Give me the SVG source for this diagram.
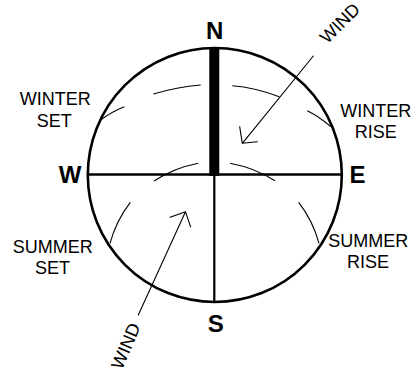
<svg xmlns="http://www.w3.org/2000/svg" width="419" height="374" viewBox="0 0 419 374">
<style>
.lbl{font-family:"Liberation Sans",Arial,sans-serif;font-size:18px;fill:#000;text-anchor:middle}
.dir{font-family:"Liberation Sans",Arial,sans-serif;font-size:24px;font-weight:bold;fill:#000;text-anchor:middle}
.path{fill:none;stroke:#000;stroke-width:1.1}
.wind{fill:none;stroke:#000;stroke-width:1.1;stroke-linecap:round;stroke-linejoin:round}
</style>
<rect width="419" height="374" fill="#fff"/>
<g id="compass">
<circle cx="214.8" cy="175" r="127" fill="none" stroke="#000" stroke-width="2.6"/>
<line x1="87.8" y1="174.5" x2="341.8" y2="174.5" stroke="#000" stroke-width="2.6"/>
<line x1="214.3" y1="175" x2="214.3" y2="302" stroke="#000" stroke-width="2.2"/>
<rect x="209.3" y="48" width="10" height="128" fill="#000"/>
</g>
<g id="sun-paths">
<path class="path" d="M153.3,94 Q177,87 200.7,85"/>
<path class="path" d="M232.3,85.7 Q255,87.5 279.3,96.7"/>
<path class="path" d="M100.7,120 Q111,112 124.3,106.7"/>
<path class="path" d="M307.3,110.7 Q320,117 330.7,126.7"/>
<path class="path" d="M154,181 Q174,168 198.3,163.3"/>
<path class="path" d="M230,163.3 Q255,168 275,180.7"/>
<path class="path" d="M110,243.3 Q116.1,220.8 130.3,202.3"/>
<path class="path" d="M298.7,202.3 Q312.9,220.8 319,243.3"/>
</g>
<g id="connectors">
<path class="wind" d="M313.3,56 L242.3,143.3 M239.7,126.7 L242.3,143.3 L257.3,141.7"/>
<path class="wind" d="M138.3,315 L185.5,211.7 M170,217.3 L185.5,211.7 L190.5,226.7"/>
</g>
<g id="labels">
<text class="dir" x="214.7" y="39.3">N</text>
<text class="dir" x="215.8" y="332">S</text>
<text class="dir" x="70" y="183.3">W</text>
<text class="dir" x="357.5" y="183.3">E</text>
<text class="lbl" x="55.3" y="105">WINTER</text>
<text class="lbl" x="54.2" y="126.7">SET</text>
<text class="lbl" x="52.8" y="253.3">SUMMER</text>
<text class="lbl" x="52.5" y="273.5">SET</text>
<text class="lbl" x="375.8" y="116.7">WINTER</text>
<text class="lbl" x="375.8" y="138.3">RISE</text>
<text class="lbl" x="368.2" y="246.7">SUMMER</text>
<text class="lbl" x="368" y="268.3">RISE</text>
<text class="lbl" transform="translate(344.2,27.5) rotate(-45)">WIND</text>
<text class="lbl" transform="translate(131.5,348.3) rotate(-67)">WIND</text>
</g>
</svg>
